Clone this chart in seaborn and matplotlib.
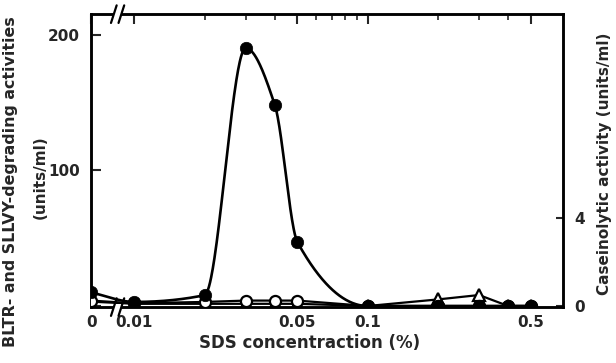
import numpy as np
import pandas as pd
import matplotlib
matplotlib.use("Agg")
import matplotlib.pyplot as plt
import seaborn as sns

# SDS concentrations (%) and measured activities
sds = [0.0, 0.01, 0.02, 0.03, 0.04, 0.05, 0.1, 0.2, 0.3, 0.4, 0.5]
bltr = [10, 3, 8, 190, 148, 47, 0, 0, 0, 0, 0]            # units/ml, left axis
sllvy = [4, 2, 3, 4, 4, 4, 0, 0, 0, 0, 0]                 # units/ml, left axis
casein = [0.2, 0.1, 0.1, 0.1, 0.1, 0.1, 0.0, 0.3, 0.5, 0.0, 0.0]  # units/ml, right axis

x_ticks = [0.0, 0.01, 0.05, 0.1, 0.5]
x_ticklabels = ["0", "0.01", "0.05", "0.1", "0.5"]
y_left_ticks = [0, 100, 200]
y_left_ticklabels = ["", "100", "200"]
y_right_ticks = [0, 4]
y_right_ticklabels = ["0", "4"]

ZERO_POS = -2.185  # where x = 0 sits on the broken log axis (in decades)


def fwd(x):
    x = np.asarray(x, dtype=float)
    safe = np.where(x > 0, x, 1.0)
    return np.where(x > 0, np.log10(safe), ZERO_POS)


def inv(u):
    return np.power(10.0, np.asarray(u, dtype=float))


def pchip(xk, yk, xs):
    """Monotone cubic (Fritsch-Carlson) curve through the points."""
    xk = np.asarray(xk, float)
    yk = np.asarray(yk, float)
    h = np.diff(xk)
    d = np.diff(yk) / h
    m = np.zeros_like(yk)
    for i in range(1, len(xk) - 1):
        if d[i - 1] * d[i] > 0:
            w1 = 2 * h[i] + h[i - 1]
            w2 = h[i] + 2 * h[i - 1]
            m[i] = (w1 + w2) / (w1 / d[i - 1] + w2 / d[i])
    m[0] = d[0]
    m[-1] = 0.0
    idx = np.clip(np.searchsorted(xk, xs) - 1, 0, len(h) - 1)
    t = (xs - xk[idx]) / h[idx]
    h00 = 2 * t**3 - 3 * t**2 + 1
    h10 = t**3 - 2 * t**2 + t
    h01 = -2 * t**3 + 3 * t**2
    h11 = t**3 - t**2
    return (h00 * yk[idx] + h10 * h[idx] * m[idx]
            + h01 * yk[idx + 1] + h11 * h[idx] * m[idx + 1])


sns.set_theme(style="ticks")
plt.rcParams["font.family"] = ["DejaVu Sans"]
plt.rcParams["font.weight"] = "bold"

fig = plt.figure(figsize=(6.16, 3.63), dpi=100)
ax = fig.add_axes([0.148, 0.154, 0.766, 0.807])
ax.set_xscale("function", functions=(fwd, inv))
ax2 = ax.twinx()

df = pd.DataFrame({"sds": sds, "bltr": bltr, "sllvy": sllvy, "casein": casein})

# SLLVY-degrading activity: open circles joined by straight segments
sns.lineplot(data=df, x="sds", y="sllvy", ax=ax, color="black", lw=1.6,
             marker="o", markersize=8, markerfacecolor="white",
             markeredgecolor="black", markeredgewidth=1.6, zorder=3)

# BLTR-degrading activity: smooth curve plus filled circles
u = fwd(df["sds"].values)
us = np.linspace(u[0], u[-1], 800)
ys = pchip(u, df["bltr"].values, us)
xs = np.where(us <= ZERO_POS + 1e-9, 0.0, np.power(10.0, us))
ax.plot(xs, ys, color="black", lw=1.9, zorder=4)
sns.scatterplot(data=df, x="sds", y="bltr", ax=ax, color="black", s=80,
                edgecolor="black", linewidth=0.5, zorder=6)

# Caseinolytic activity (right axis): open triangles
sns.lineplot(data=df, x="sds", y="casein", ax=ax2, color="black", lw=1.6,
             marker="^", markersize=8, markerfacecolor="white",
             markeredgecolor="black", markeredgewidth=1.6, zorder=3)
ax.set_zorder(ax2.get_zorder() + 1)
ax.patch.set_visible(False)

ax.set_xlim(0.0, 0.687)
ax.set_ylim(-0.8, 215)
ax2.set_ylim(-0.05, 13.3)

ax.set_xticks(x_ticks)
ax.set_xticklabels(x_ticklabels)
ax.set_xticks([0.02, 0.03, 0.04, 0.06, 0.07, 0.08, 0.09, 0.2, 0.3, 0.4],
              minor=True)
ax.set_yticks(y_left_ticks)
ax.set_yticklabels(y_left_ticklabels)
ax2.set_yticks(y_right_ticks)
ax2.set_yticklabels(y_right_ticklabels)

ax.tick_params(axis="x", which="both", direction="in", top=True, bottom=False,
               labelbottom=True, pad=6, labelsize=11)
ax.tick_params(axis="x", which="major", length=7, width=1.5)
ax.tick_params(axis="x", which="minor", length=4, width=1.2)
ax.tick_params(axis="y", direction="in", length=7, width=1.5, pad=8,
               labelsize=11)
ax2.tick_params(axis="y", direction="in", length=5, width=1.5, pad=8,
                labelsize=11)

for a in (ax, ax2):
    for s in a.spines.values():
        s.set_linewidth(1.8)
        s.set_color("black")
ax.set_xlabel("")
ax.set_ylabel("")
ax2.set_ylabel("")

# axis break marks between 0 and 0.01
for yb in (0.0, 1.0):
    ax.add_patch(plt.Rectangle((0.048, yb - 0.012), 0.018, 0.024,
                               transform=ax.transAxes, facecolor="white",
                               edgecolor="none", clip_on=False, zorder=10))
    for xb in (0.046, 0.062):
        ax.plot([xb - 0.004, xb + 0.008], [yb - 0.03, yb + 0.03],
                transform=ax.transAxes, color="black", lw=1.6,
                clip_on=False, zorder=11)

fig.text(310 / 616, 1 - 343 / 363, "SDS concentraction (%)", ha="center",
         va="center", fontsize=12, fontweight="bold")
fig.text(11 / 616, 1 - 182 / 363, "BLTR- and SLLVY-degrading activities",
         rotation=90, ha="center", va="center", fontsize=11.4,
         fontweight="bold")
fig.text(40 / 616, 1 - 177 / 363, "(units/ml)", rotation=90, ha="center",
         va="center", fontsize=11, fontweight="bold")
fig.text(605 / 616, 1 - 164 / 363, "Caseinolytic activity (units/ml)",
         rotation=90, ha="center", va="center", fontsize=11, fontweight="bold")

fig.savefig("out.png", dpi=100, facecolor="white")
